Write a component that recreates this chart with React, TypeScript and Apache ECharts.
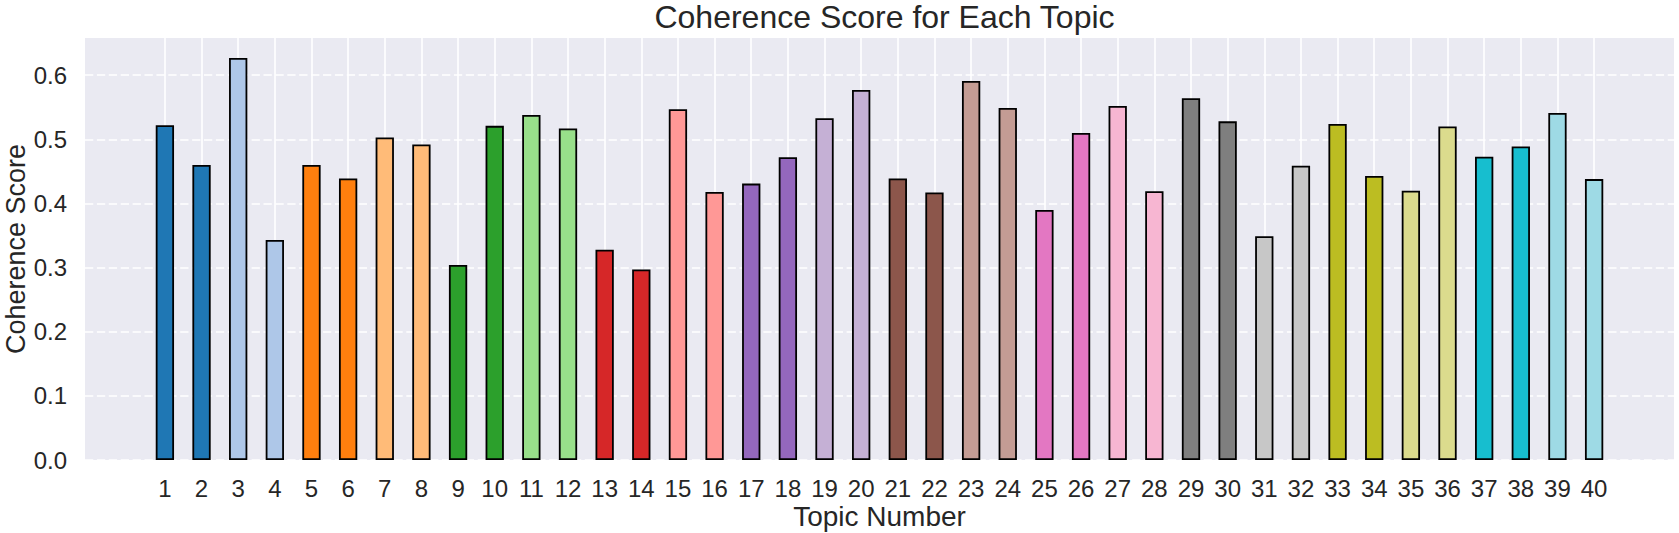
import React, { useEffect, useRef } from "react";
import * as echarts from "echarts";

const topics: number[] = Array.from({ length: 40 }, (_, i) => i + 1);

const scores: number[] = [
  0.522, 0.46, 0.627, 0.343, 0.46, 0.439, 0.503, 0.492, 0.304, 0.521,
  0.538, 0.517, 0.328, 0.297, 0.547, 0.418, 0.431, 0.472, 0.533, 0.577,
  0.439, 0.417, 0.591, 0.549, 0.39, 0.51, 0.552, 0.419, 0.564, 0.528,
  0.349, 0.459, 0.524, 0.443, 0.42, 0.52, 0.473, 0.489, 0.541, 0.438,
];

const palette: string[] = [
  "#1f77b4", "#aec7e8", "#ff7f0e", "#ffbb78", "#2ca02c", "#98df8a",
  "#d62728", "#ff9896", "#9467bd", "#c5b0d5", "#8c564b", "#c49c94",
  "#e377c2", "#f7b6d2", "#7f7f7f", "#c7c7c7", "#bcbd22", "#dbdb8d",
  "#17becf", "#9edae5",
];

const yTicks: number[] = [0, 0.1, 0.2, 0.3, 0.4, 0.5, 0.6];

const FONT = "'Liberation Sans', Arial, Helvetica, sans-serif";
const TEXT = "#262626";

export default function App() {
  const ref = useRef<HTMLDivElement>(null);

  useEffect(() => {
    if (!ref.current) return;
    const chart = echarts.init(ref.current, undefined, { renderer: "svg" });
    const data = topics.map((t, i) => ({
      value: [t, scores[i]],
      itemStyle: {
        color: palette[Math.floor(i / 2) % palette.length],
        borderColor: "#000",
        borderWidth: 1.8,
      },
    }));
    chart.setOption({
      animation: false,
      backgroundColor: "#ffffff",
      textStyle: { fontFamily: FONT },
      title: {
        text: "Coherence Score for Each Topic",
        left: 879.5,
        textAlign: "center",
        top: -4,
        textStyle: {
          fontFamily: FONT,
          fontSize: 32,
          fontWeight: "normal",
          color: TEXT,
        },
      },
      grid: {
        left: 85,
        right: 5,
        top: 38,
        bottom: 73,
        show: true,
        backgroundColor: "#eaeaf2",
        borderWidth: 0,
        containLabel: false,
        outerBoundsMode: "none",
      },
      xAxis: {
        type: "value",
        min: -1.18,
        max: 42.18,
        name: "Topic Number",
        nameLocation: "middle",
        nameGap: 42,
        nameMoveOverlap: false,
        nameTextStyle: { fontFamily: FONT, fontSize: 28, color: TEXT },
        axisLine: { show: false },
        axisTick: { show: false, customValues: topics },
        axisLabel: {
          customValues: topics,
          fontFamily: FONT,
          fontSize: 24,
          color: TEXT,
          margin: 16,
        },
        splitLine: {
          show: true,
          lineStyle: { color: "#ffffff", width: 1.6, type: "solid" },
        },
      },
      yAxis: {
        type: "value",
        min: 0,
        max: 0.658,
        name: "Coherence Score",
        nameLocation: "middle",
        nameGap: 56,
        nameMoveOverlap: false,
        nameTextStyle: { fontFamily: FONT, fontSize: 27, color: TEXT },
        axisLine: { show: false },
        axisTick: { show: false, customValues: yTicks },
        axisLabel: {
          customValues: yTicks,
          fontFamily: FONT,
          fontSize: 24,
          color: TEXT,
          margin: 18,
          formatter: (v: number) => v.toFixed(1),
        },
        splitLine: {
          show: true,
          lineStyle: { color: "#ffffff", width: 1.5, type: [8.3, 3.6] },
        },
      },
      series: [
        {
          type: "bar",
          data,
          barWidth: 18.3,
        },
      ],
    });
    return () => chart.dispose();
  }, []);

  return (
    <div
      ref={ref}
      style={{ position: "fixed", left: 0, top: 0, width: 1679, height: 533 }}
    />
  );
}
